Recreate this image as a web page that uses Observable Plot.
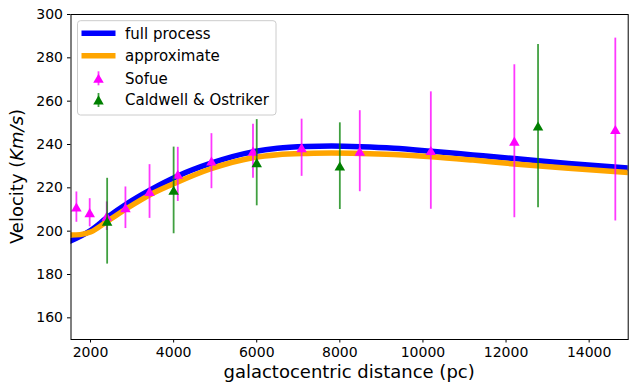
<!DOCTYPE html>
<html>
<head>
<meta charset="utf-8">
<script src="https://cdn.jsdelivr.net/npm/d3@7"></script>
<script src="https://cdn.jsdelivr.net/npm/@observablehq/plot@0.6"></script>
<style>
  html, body { margin: 0; padding: 0; background: #fff; }
  #chart { position: relative; width: 638px; height: 390px; }
</style>
</head>
<body>
<div id="chart"></div>
<script>
// ---- data ----
const fullX = [1500, 2000, 2400, 2900, 3450, 4100, 4900, 5900, 6500, 7200, 7800, 8500, 9300, 10200, 11200, 12200, 13500, 15000];
const fullY = [195.3, 200.3, 206.3, 213.0, 219.2, 225.5, 231.4, 236.6, 238.3, 239.1, 239.3, 239.0, 238.3, 236.9, 235.2, 233.5, 231.2, 229.0];

const approxX = [1500, 1750, 2000, 2400, 2900, 3450, 4100, 4900, 5900, 6500, 7200, 7800, 8500, 9300, 10200, 11200, 12200, 13500, 15000];
const approxY = [198.2, 198.4, 199.6, 204.5, 210.8, 217.0, 222.7, 228.8, 233.9, 235.3, 235.9, 236.1, 235.9, 235.4, 234.4, 232.8, 231.0, 229.0, 227.0];

const sofueX = [1660, 1980, 2390, 2840, 3420, 4100, 4910, 5910, 7080, 8480, 10190, 12200, 14630];
const sofueY = [211.1, 208.5, 206.9, 210.8, 218.3, 226.2, 232.3, 236.9, 238.5, 236.9, 237.2, 241.5, 246.9];
const sofueErr = [7, 6.5, 6.6, 9.6, 12.4, 12.5, 12.7, 12.5, 13.2, 18.7, 27.1, 35.3, 42.2];

const coX = [2400, 4000, 6000, 8000, 12770];
const coY = [204.6, 218.8, 231.6, 230.0, 248.5];
const coErr = [19.8, 20, 19.9, 20, 37.7];

const xTicks = [2000, 4000, 6000, 8000, 10000, 12000, 14000];
const yTicks = [160, 180, 200, 220, 240, 260, 280, 300];

const seriesNames = ["full process", "approximate", "Sofue", "Caldwell & Ostriker"];
const colors = { full: "#0000ff", approx: "#ffa500", sofue: "#ff00ff", co: "#008000" };

// ---- tables ----
const full = fullX.map((x, i) => ({ x, y: fullY[i] }));
const approx = approxX.map((x, i) => ({ x, y: approxY[i] }));
const sofue = sofueX.map((x, i) => ({ x, y: sofueY[i], e: sofueErr[i] }));
const co = coX.map((x, i) => ({ x, y: coY[i], e: coErr[i] }));

const W = 638, H = 390;
const mL = 70.5, mR = 10.3, mT = 14, mB = 51;

const chart = Plot.plot({
  width: W,
  height: H,
  marginLeft: mL,
  marginRight: mR,
  marginTop: mT,
  marginBottom: mB,
  style: { fontFamily: "DejaVu Sans", fontSize: "14px", color: "black", background: "white" },
  x: { domain: [1530, 14940] },
  y: { domain: [150, 300] },
  marks: [
    Plot.line(full, { x: "x", y: "y", stroke: colors.full, strokeWidth: 5.5, curve: "monotone-x", clip: true }),
    Plot.line(approx, { x: "x", y: "y", stroke: colors.approx, strokeWidth: 5.5, curve: "monotone-x", clip: true }),
    Plot.ruleX(sofue, { x: "x", y1: d => d.y - d.e, y2: d => d.y + d.e, stroke: colors.sofue, strokeWidth: 1.8, strokeOpacity: 0.78 }),
    Plot.dot(sofue, { x: "x", y: "y", symbol: "triangle", r: 3.9, fill: colors.sofue, stroke: "none", dy: 1.4 }),
    Plot.ruleX(co, { x: "x", y1: d => d.y - d.e, y2: d => d.y + d.e, stroke: colors.co, strokeWidth: 1.8, strokeOpacity: 0.75 }),
    Plot.dot(co, { x: "x", y: "y", symbol: "triangle", r: 3.9, fill: colors.co, stroke: "none", dy: 1.4 }),
    Plot.frame({ stroke: "black", strokeWidth: 1 }),
    Plot.axisX({ ticks: xTicks, tickFormat: d => String(d), tickSize: 3.5, tickPadding: 4, fontSize: 14, label: null }),
    Plot.axisY({ ticks: yTicks, tickSize: 3.5, tickPadding: 4.5, fontSize: 14, label: null })
  ]
});

document.getElementById("chart").appendChild(chart);

// ---- axis titles and legend drawn into the same SVG ----
const svg = d3.select(chart);
const font = "DejaVu Sans";

svg.append("text")
  .attr("x", (mL + (W - mR)) / 2)
  .attr("y", 378)
  .attr("text-anchor", "middle")
  .attr("font-family", font)
  .attr("font-size", 18)
  .attr("fill", "black")
  .text("galactocentric distance (pc)");

const yl = svg.append("text")
  .attr("transform", `translate(23,${(mT + (H - mB)) / 2}) rotate(-90)`)
  .attr("text-anchor", "middle")
  .attr("font-family", font)
  .attr("font-size", 18)
  .attr("fill", "black");
yl.append("tspan").text("Velocity (");
yl.append("tspan").attr("font-style", "italic").text("Km/s");
yl.append("tspan").text(")");

// legend
const lg = svg.append("g").attr("text-anchor", "start");
lg.append("rect")
  .attr("x", 77.5).attr("y", 20.7).attr("width", 198.5).attr("height", 94.3)
  .attr("rx", 3).attr("ry", 3)
  .attr("fill", "white").attr("fill-opacity", 0.8)
  .attr("stroke", "#cccccc").attr("stroke-width", 1);

const rowY = [33.3, 55.7, 78.3, 100];
const hx0 = 81.5, hx1 = 115.5, hxm = 98.5, tx = 125;

// line handles
[[colors.full, rowY[0]], [colors.approx, rowY[1]]].forEach(([c, y]) => {
  lg.append("line").attr("x1", hx0).attr("x2", hx1).attr("y1", y).attr("y2", y)
    .attr("stroke", c).attr("stroke-width", 5.5);
});
// errorbar handles
const tri = d3.symbol().type(d3.symbolTriangle).size(Math.PI * 3.9 * 3.9);
[[colors.sofue, rowY[2], 0.78], [colors.co, rowY[3], 0.75]].forEach(([c, y, op]) => {
  lg.append("line").attr("x1", hxm).attr("x2", hxm).attr("y1", y - 7).attr("y2", y + 7)
    .attr("stroke", c).attr("stroke-width", 1.8).attr("stroke-opacity", op);
  lg.append("path").attr("d", tri()).attr("transform", `translate(${hxm},${y + 1.4})`).attr("fill", c);
});
seriesNames.forEach((name, i) => {
  lg.append("text")
    .attr("x", tx).attr("y", rowY[i]).attr("dy", "0.36em")
    .attr("text-anchor", "start")
    .attr("font-family", font).attr("font-size", 15).attr("fill", "black")
    .text(name);
});
</script>
</body>
</html>
